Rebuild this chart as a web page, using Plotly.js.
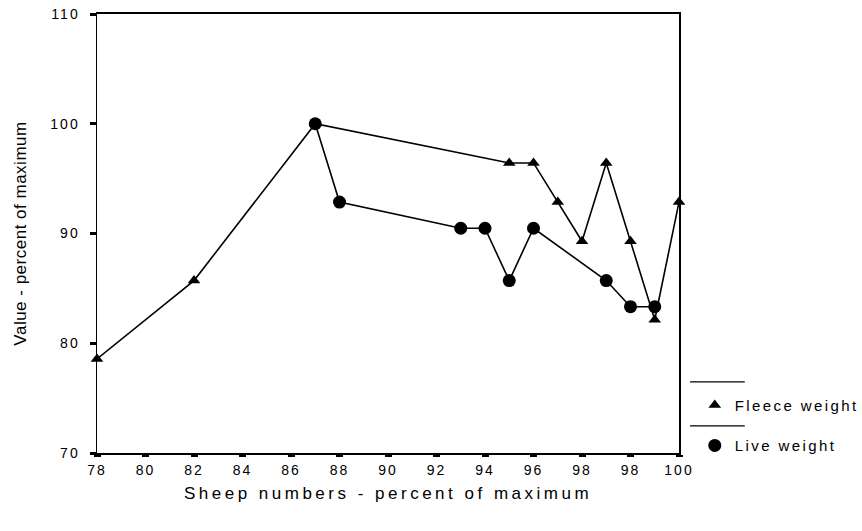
<!DOCTYPE html>
<html>
<head>
<meta charset="utf-8">
<script src="https://cdn.plot.ly/plotly-3.0.1.min.js"></script>
<style>
  html, body { margin: 0; padding: 0; background: #fff; }
  #chart { width: 862px; height: 531px; }
  .xtick text, .ytick text { letter-spacing: 2px; }
  .xtitle { letter-spacing: 3.5px; }
  .ytitle { letter-spacing: 0.5px; }
  .legendtext { letter-spacing: 2.4px; }
</style>
</head>
<body>
<div id="chart"></div>
<script>
// Position along the drawn x axis (axis units) and values (% of maximum)
const fleeceX = [78, 82, 87, 95, 96, 97, 98, 99, 100, 101, 102];
const fleeceY = [78.57, 85.71, 100, 96.43, 96.43, 92.86, 89.29, 96.43, 89.29, 82.14, 92.86];
const liveX = [87, 88, 93, 94, 95, 96, 99, 100, 101];
const liveY = [100, 92.86, 90.48, 90.48, 85.71, 90.48, 85.71, 83.33, 83.33];
// Axis tick labels as printed on the original chart
const xTickVals = [78, 80, 82, 84, 86, 88, 90, 92, 94, 96, 98, 100, 102];
const xTickText = ["78", "80", "82", "84", "86", "88", "90", "92", "94", "96", "98", "98", "100"];
const yTickVals = [70, 80, 90, 100, 110];
const seriesNames = ["Fleece weight", "Live weight"];

const font = "Liberation Sans, Arial, sans-serif";

const traces = [
  {
    x: fleeceX, y: fleeceY, type: "scatter", mode: "lines+markers",
    line: { color: "#000", width: 1.6 },
    marker: { symbol: "triangle-up", size: 11, color: "#000" },
    showlegend: false, cliponaxis: false
  },
  {
    x: liveX, y: liveY, type: "scatter", mode: "lines+markers",
    line: { color: "#000", width: 1.6 },
    marker: { symbol: "circle", size: 13, color: "#000" },
    showlegend: false, cliponaxis: false
  },
  {
    x: [null], y: [null], type: "scatter", mode: "markers", name: seriesNames[0],
    marker: { symbol: "triangle-up", size: 11, color: "#000" }, legendgroup: "a"
  },
  {
    x: [null], y: [null], type: "scatter", mode: "markers", name: seriesNames[1],
    marker: { symbol: "circle", size: 13, color: "#000" }, legendgroup: "b"
  }
];

const layout = {
  width: 862, height: 531,
  margin: { l: 97, r: 183, t: 14, b: 78 },
  paper_bgcolor: "#fff", plot_bgcolor: "#fff",
  font: { family: font, color: "#000", size: 14 },
  xaxis: {
    range: [78, 102], tickmode: "array", tickvals: xTickVals, ticktext: xTickText,
    showgrid: false, zeroline: false, showline: true, linecolor: "#000", linewidth: 2,
    mirror: true, ticks: "outside", ticklen: 2, tickwidth: 7, tickcolor: "#000",
    tickfont: { family: font, size: 14 }, ticklabelstandoff: 1,
    title: { text: "Sheep numbers - percent of maximum", font: { family: font, size: 17 }, standoff: 10 }
  },
  yaxis: {
    range: [70, 110], tickmode: "array", tickvals: yTickVals,
    showgrid: false, zeroline: false, showline: true, linecolor: "#000", linewidth: 1.5,
    mirror: true, ticks: "outside", ticklen: 6, tickwidth: 3, tickcolor: "#000",
    tickfont: { family: font, size: 14 }, ticklabelstandoff: 7,
    title: { text: "Value - percent of maximum", font: { family: font, size: 17 }, standoff: 19 }
  },
  legend: {
    xref: "container", yref: "container",
    x: 0.806, xanchor: "left", y: 0.268, yanchor: "top",
    font: { family: font, size: 15 }, tracegroupgap: 18,
    bgcolor: "rgba(0,0,0,0)", borderwidth: 0
  },
  shapes: [
    { type: "line", xref: "paper", yref: "paper", x0: 1.019, x1: 1.113, y0: 0.162, y1: 0.162, line: { color: "#000", width: 1.2 } },
    { type: "line", xref: "paper", yref: "paper", x0: 1.019, x1: 1.113, y0: 0.062, y1: 0.062, line: { color: "#000", width: 1.2 } }
  ]
};

Plotly.newPlot("chart", traces, layout, { displayModeBar: false, staticPlot: true });
</script>
</body>
</html>
